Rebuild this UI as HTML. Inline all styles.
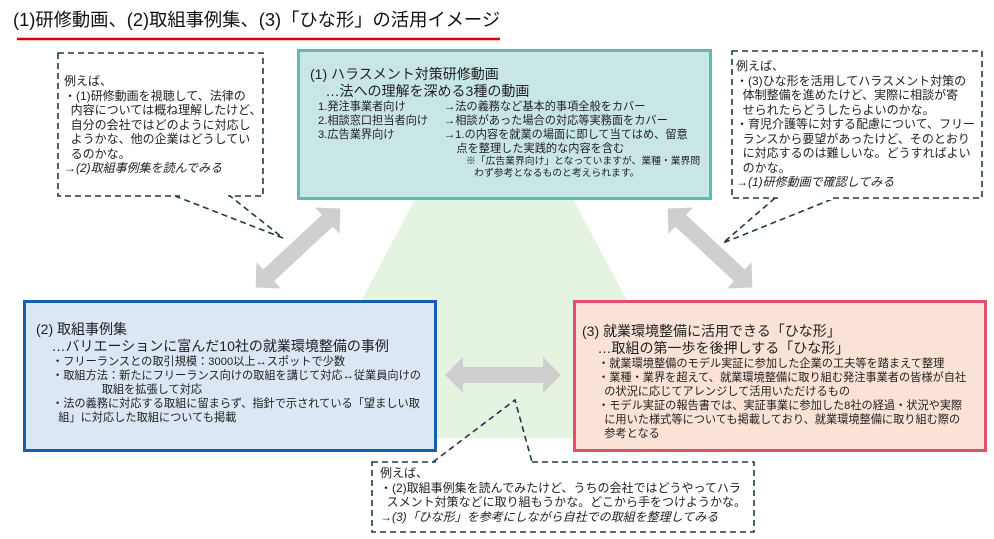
<!DOCTYPE html>
<html><head><meta charset="utf-8"><style>
body{margin:0;width:994px;height:539px;background:#fff;position:relative;overflow:hidden;font-family:"Liberation Sans","Noto Sans CJK JP",sans-serif;color:#222}
.t{position:absolute;white-space:nowrap}
.s{font-size:11.2px;line-height:14px}
.c{font-size:12px;line-height:14.5px}
.h{font-size:14px;line-height:17px}
i{font-style:italic}
</style></head><body>
<svg width="994" height="539" style="position:absolute;left:0;top:0">
<polygon points="415,199 573,199 700,438 289,438" fill="#e4f4e0"/>
<line x1="17" y1="39" x2="500" y2="39" stroke="#d00" stroke-width="2.5"/>
<rect x="298.5" y="50.5" width="412" height="148" fill="#c8e6e5" stroke="#62b9b2" stroke-width="3"/>
<rect x="24.5" y="301.5" width="411" height="149" fill="#dbe7f4" stroke="#1460b0" stroke-width="3"/>
<rect x="574.5" y="301.5" width="411" height="149" fill="#fbe2d6" stroke="#e0506e" stroke-width="3"/>
<g fill="#cfcfcf">
<g transform="translate(298,248) rotate(-43)"><polygon points="-58,0 -40,-18 -40,-8 40,-8 40,-18 58,0 40,18 40,8 -40,8 -40,18"/></g>
<g transform="translate(710,248) rotate(43)"><polygon points="-58,0 -40,-18 -40,-8 40,-8 40,-18 58,0 40,18 40,8 -40,8 -40,18"/></g>
<g transform="translate(503,375)"><polygon points="-58,0 -40,-18 -40,-8 40,-8 40,-18 58,0 40,18 40,8 -40,8 -40,18"/></g>
</g>
<g fill="none" stroke="#1e3a4a" stroke-width="1.6" stroke-dasharray="6,4">
<rect x="58" y="53" width="205" height="143" />
<polyline points="175,196 283,238 230,196"/>
<rect x="732" y="51" width="250" height="147"/>
<polyline points="775,198 723,243 835,198"/>
<rect x="372" y="462" width="382" height="70"/>
<polyline points="433,462 515,400 532,462"/>
</g>
<g fill="#fff"><rect x="180" y="195" width="48" height="3"/><rect x="778" y="197" width="54" height="3"/><rect x="436" y="461" width="94" height="3"/></g>
</svg>
<div class="t" style="left:13px;top:9px;font-size:18.3px;line-height:22px;color:#111">(1)研修動画、(2)取組事例集、(3)「ひな形」の活用イメージ</div>

<div class="t c" style="left:64px;top:74px">例えば、<br>・(1)研修動画を視聴して、法律の<br>&nbsp;&nbsp;内容については概ね理解したけど、<br>&nbsp;&nbsp;自分の会社ではどのように対応し<br>&nbsp;&nbsp;ようかな、他の企業はどうしてい<br>&nbsp;&nbsp;るのかな。<br><i>→(2)取組事例集を読んでみる</i></div>

<div class="t h" style="left:310px;top:66px">(1) ハラスメント対策研修動画<br>&nbsp;&nbsp;&nbsp;&nbsp;…法への理解を深める3種の動画</div>
<div class="t s" style="left:318px;top:100px">1.発注事業者向け<br>2.相談窓口担当者向け<br>3.広告業界向け</div>
<div class="t s" style="left:444px;top:100px">→法の義務など基本的事項全般をカバー<br>→相談があった場合の対応等実務面をカバー<br>→1.の内容を就業の場面に即して当てはめ、留意<br>&nbsp;&nbsp;&nbsp;&nbsp;点を整理した実践的な内容を含む</div>
<div class="t" style="left:466px;top:156px;font-size:9.8px;line-height:12px">※「広告業界向け」となっていますが、業種・業界問<br>&nbsp;&nbsp;&nbsp;わず参考となるものと考えられます。</div>

<div class="t c" style="left:736px;top:59px">例えば、<br>・(3)ひな形を活用してハラスメント対策の<br>&nbsp;&nbsp;体制整備を進めたけど、実際に相談が寄<br>&nbsp;&nbsp;せられたらどうしたらよいのかな。<br>・育児介護等に対する配慮について、フリー<br>&nbsp;&nbsp;ランスから要望があったけど、そのとおり<br>&nbsp;&nbsp;に対応するのは難しいな。どうすればよい<br>&nbsp;&nbsp;のかな。<br><i>→(1)研修動画で確認してみる</i></div>

<div class="t h" style="left:36px;top:321px">(2) 取組事例集<br>&nbsp;&nbsp;&nbsp;&nbsp;…バリエーションに富んだ10社の就業環境整備の事例</div>
<div class="t s" style="left:52px;top:355px">・フリーランスとの取引規模：3000以上↔スポットで少数<br>・取組方法：新たにフリーランス向けの取組を講じて対応↔従業員向けの<br>&nbsp;&nbsp;&nbsp;&nbsp;&nbsp;&nbsp;&nbsp;&nbsp;&nbsp;&nbsp;&nbsp;&nbsp;&nbsp;&nbsp;&nbsp;&nbsp;取組を拡張して対応<br>・法の義務に対応する取組に留まらず、指針で示されている「望ましい取<br>&nbsp;&nbsp;組」に対応した取組についても掲載</div>

<div class="t h" style="left:582px;top:323px">(3) 就業環境整備に活用できる「ひな形」<br>&nbsp;&nbsp;&nbsp;&nbsp;…取組の第一歩を後押しする「ひな形」</div>
<div class="t s" style="left:598px;top:357px">・就業環境整備のモデル実証に参加した企業の工夫等を踏まえて整理<br>・業種・業界を超えて、就業環境整備に取り組む発注事業者の皆様が自社<br>&nbsp;&nbsp;の状況に応じてアレンジして活用いただけるもの<br>・モデル実証の報告書では、実証事業に参加した8社の経過・状況や実際<br>&nbsp;&nbsp;に用いた様式等についても掲載しており、就業環境整備に取り組む際の<br>&nbsp;&nbsp;参考となる</div>

<div class="t c" style="left:380px;top:466px">例えば、<br>・(2)取組事例集を読んでみたけど、うちの会社ではどうやってハラ<br>&nbsp;&nbsp;スメント対策などに取り組もうかな。どこから手をつけようかな。<br><i>→(3)「ひな形」を参考にしながら自社での取組を整理してみる</i></div>
</body></html>
